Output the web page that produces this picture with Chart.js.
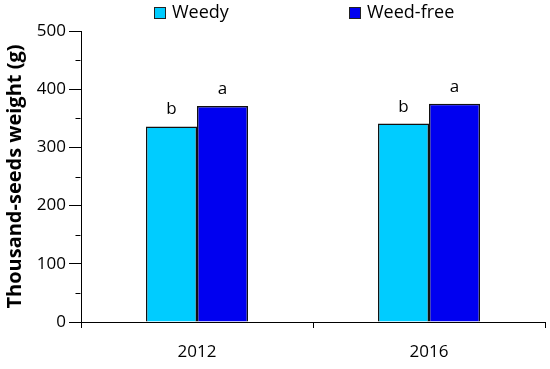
<!DOCTYPE html>
<html>
<head>
<meta charset="utf-8">
<script src="https://cdn.jsdelivr.net/npm/chart.js@4"></script>
<style>
html,body{margin:0;padding:0;background:#fff;}
#wrap{width:550px;height:369px;position:relative;}
</style>
</head>
<body>
<div id="wrap"><canvas id="c" width="550" height="369"></canvas></div>
<script>
const categories = ['2012', '2016'];
const weedy = [336, 341];
const weedFree = [371, 375];
const weedyLetters = ['b', 'b'];
const weedFreeLetters = ['a', 'a'];
const seriesNames = ['Weedy', 'Weed-free'];
const yTitle = 'Thousand-seeds weight (g)';
const yMajorStep = 100;
const yMinorStep = 50;

const FONT = '"Open Sans", sans-serif';

const letterPlugin = {
  id: 'letters',
  afterDatasetsDraw(chart) {
    const ctx = chart.ctx;
    ctx.save();
    ctx.fillStyle = '#000';
    ctx.font = '17px ' + FONT;
    ctx.textAlign = 'center';
    ctx.textBaseline = 'alphabetic';
    chart.data.datasets.forEach((ds, i) => {
      const meta = chart.getDatasetMeta(i);
      meta.data.forEach((bar, j) => {
        ctx.fillText(ds.letters[j], bar.x, bar.y - 12);
      });
    });
    ctx.restore();
  }
};

const minorTickPlugin = {
  id: 'minorTicks',
  afterDraw(chart) {
    const y = chart.scales.y;
    const ctx = chart.ctx;
    const x0 = Math.round(y.right) - 0.5;
    ctx.save();
    ctx.strokeStyle = '#000';
    ctx.lineWidth = 1;
    ctx.beginPath();
    for (let v = y.min; v <= y.max; v += yMinorStep) {
      if (v % yMajorStep === 0) continue;
      const py = Math.round(y.getPixelForValue(v)) + 0.5;
      ctx.moveTo(x0 - 5, py);
      ctx.lineTo(x0, py);
    }
    ctx.stroke();
    ctx.restore();
  }
};

const legendPlugin = {
  id: 'customLegend',
  afterDraw(chart) {
    const ctx = chart.ctx;
    const xs = [154, 349];
    ctx.save();
    ctx.font = '18px ' + FONT;
    ctx.textBaseline = 'middle';
    ctx.textAlign = 'left';
    chart.data.datasets.forEach((ds, i) => {
      const x = xs[i], y = 7;
      ctx.fillStyle = ds.backgroundColor;
      ctx.fillRect(x, y, 12, 12);
      ctx.strokeStyle = '#222';
      ctx.lineWidth = 1;
      ctx.strokeRect(x + 0.5, y + 0.5, 11, 11);
      ctx.fillStyle = '#000';
      ctx.fillText(ds.label, x + 18, y + 6);
    });
    ctx.restore();
  }
};

new Chart(document.getElementById('c'), {
  type: 'bar',
  data: {
    labels: categories,
    datasets: [
      { label: seriesNames[0], data: weedy, letters: weedyLetters, backgroundColor: '#00CCFF', borderColor: '#111', borderWidth: 1.5, borderSkipped: 'bottom' },
      { label: seriesNames[1], data: weedFree, letters: weedFreeLetters, backgroundColor: '#0000F0', borderColor: '#111', borderWidth: 1.5, borderSkipped: 'bottom' }
    ]
  },
  options: {
    responsive: false,
    animation: false,
    devicePixelRatio: 1,
    layout: { padding: { top: 31, right: 5, left: 0, bottom: 0 } },
    datasets: { bar: { categoryPercentage: 0.44, barPercentage: 1.0 } },
    plugins: { legend: { display: false }, tooltip: { enabled: false } },
    scales: {
      x: {
        grid: { offset: true, drawOnChartArea: false, drawTicks: true, tickLength: 6, color: '#000' },
        border: { color: '#000', width: 1 },
        ticks: { color: '#000', font: { family: FONT, size: 17 }, padding: 14 },
        afterFit(s) { s.height = 47; }
      },
      y: {
        min: 0, max: 500,
        grid: { drawOnChartArea: false, drawTicks: true, tickLength: 12, color: '#000' },
        border: { color: '#000', width: 1 },
        ticks: {
          stepSize: yMajorStep, color: '#000', padding: 3,
          font: { family: FONT, size: 17 }
        },
        title: { display: true, text: yTitle, color: '#000', font: { family: FONT, size: 20, weight: 'bold' }, padding: { top: 3, bottom: 0 } },
        afterFit(s) { s.width = 81; }
      }
    }
  },
  plugins: [letterPlugin, legendPlugin, minorTickPlugin]
});
</script>
</body>
</html>
